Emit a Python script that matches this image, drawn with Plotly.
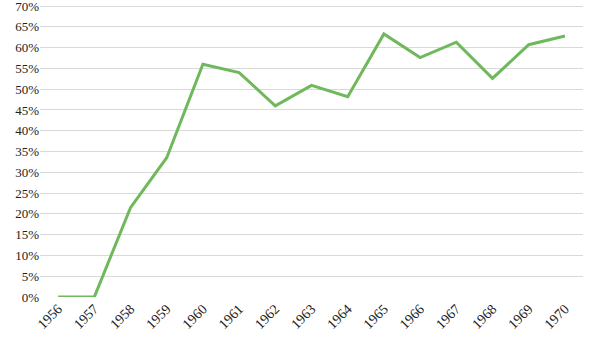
import plotly.graph_objects as go

years = ["1956", "1957", "1958", "1959", "1960", "1961", "1962", "1963",
         "1964", "1965", "1966", "1967", "1968", "1969", "1970"]
values = [0.0, 0.0, 21.5, 33.5, 56.0, 54.0, 46.0, 50.9,
          48.2, 63.3, 57.6, 61.3, 52.6, 60.7, 62.8]
y_ticks = list(range(0, 75, 5))

fig = go.Figure()
fig.add_trace(go.Scatter(
    x=years, y=values, mode="lines",
    line=dict(color="#6fb85c", width=3),
    hoverinfo="x+y",
))

fig.update_layout(
    width=594, height=348,
    margin=dict(l=40, r=11, t=5, b=51),
    paper_bgcolor="white", plot_bgcolor="white",
    font=dict(family="Liberation Serif", size=13, color="#222222"),
    showlegend=False,
    xaxis=dict(
        type="category", range=[-0.5, 14.5], automargin=False,
        tickangle=-45, showgrid=False, zeroline=False,
        showline=False, ticks="", tickfont=dict(size=14),
    ),
    yaxis=dict(
        range=[0, 70.25], tickvals=y_ticks,
        ticktext=[f"{v}%" for v in y_ticks], automargin=False,
        showgrid=True, gridcolor="#d9d9d9", gridwidth=1,
        zeroline=False, showline=False, ticks="",
        tickfont=dict(size=13), ticklabeloverflow="allow",
    ),
)

fig.write_html("out.html", config={"displayModeBar": False},
               post_script="document.body.style.margin='0';")
